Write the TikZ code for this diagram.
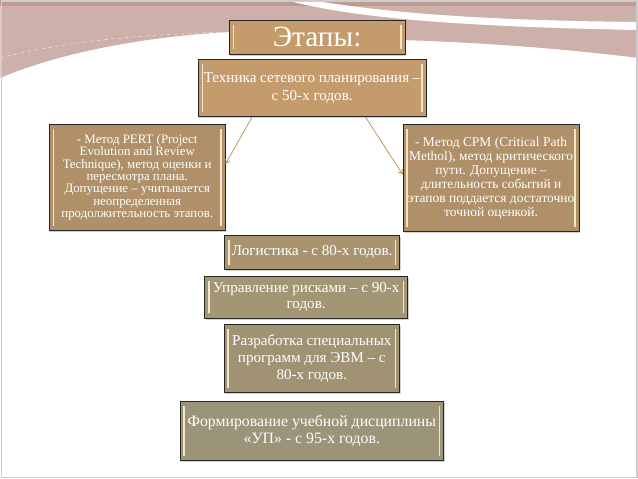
\documentclass[tikz,border=0pt]{standalone}
\usepackage{fontspec}
\setmainfont{Liberation Serif}
\usetikzlibrary{arrows.meta, positioning, shadows}

\definecolor{tanA}{HTML}{C39B6C}
\definecolor{tanB}{HTML}{AF9068}
\definecolor{olvA}{HTML}{A8956F}
\definecolor{olvB}{HTML}{A39674}
\definecolor{olvC}{HTML}{9F9373}
\definecolor{olvD}{HTML}{9B9479}
\definecolor{barc}{HTML}{F6E6C6}
\definecolor{arrowc}{HTML}{B48E58}
\definecolor{wavec}{HTML}{CDB0AA}
\definecolor{wavedark}{HTML}{B89088}

\begin{document}
\begin{tikzpicture}[
    node distance=0.2cm and 1cm,
    stage/.style={rectangle, draw=black!85, line width=0.6pt, fill=tanA, text=white, inner sep=0pt, align=center,
        font=\fontsize{11}{10.5}\selectfont,
        drop shadow={shadow xshift=1pt, shadow yshift=-1.5pt, opacity=0.35},
        path picture={
            \draw[barc, line width=1.3pt]
              ([xshift=3.5pt, yshift=4pt]path picture bounding box.south west) --
              ([xshift=3.5pt, yshift=-4pt]path picture bounding box.north west)
              ([xshift=-3.5pt, yshift=4pt]path picture bounding box.south east) --
              ([xshift=-3.5pt, yshift=-4pt]path picture bounding box.north east);
        }},
    arrow/.style={-{To[length=4pt, width=5pt]}, draw=arrowc, line width=0.6pt}
]

% Slide background
\fill[white] (0,0) rectangle (19.14,-14.37);
\begin{scope}[x=0.03cm, y=-0.03cm]
  \fill[wavec] (0,0) -- (638,0) -- (638,58)
    .. controls (560,48) and (470,42) .. (400,40) -- (230,32)
    .. controls (150,36) and (60,52) .. (0,78) -- cycle;
  \fill[wavedark!70!wavec] (0,0) -- (638,0) -- (638,6) -- (0,6) -- cycle;
  \fill[white] (285,0) .. controls (340,14) and (420,26) .. (638,30)
    -- (638,22) .. controls (440,20) and (360,8) .. (310,0) -- cycle;
  \draw[white!60!wavec, dashed, line width=0.5pt] (0,58) .. controls (70,40) and (150,34) .. (230,32);
  \draw[black!20, line width=1.2pt] (1,1) rectangle (637,478);
\end{scope}
\useasboundingbox (0,0) rectangle (19.14,-14.37);

% Top
\node[stage, minimum width=5.28cm, minimum height=1.02cm, font=\fontsize{25}{25}\selectfont] (title) at (9.51,-1.11) {Этапы:};
\node[stage, minimum width=6.84cm, minimum height=1.71cm, below=0.15cm of title, xshift=-0.15cm,
  font=\fontsize{12.9}{15}\selectfont] (network) {Техника сетевого планирования –\\с 50-х годов.};

% Methods
\node[stage, fill=tanB, minimum width=5.28cm, minimum height=3.18cm, below=0.21cm of network, xshift=-5.25cm] (pert)
  {- Метод PERT (Project\\Evolution and Review\\Technique), метод оценки и\\пересмотра плана.\\Допущение – учитывается\\неопределенная\\продолжительность этапов.};
\node[stage, fill=tanB, minimum width=5.28cm, minimum height=3.21cm, below=0.21cm of network, xshift=5.37cm,
  font=\fontsize{11.5}{12}\selectfont] (cpm)
  {- Метод CPM (Critical Path\\Methol), метод критического\\пути. Допущение –\\длительность событий и\\этапов поддается достаточно\\точной оценкой.};

% Later stages
\node[stage, fill=olvA, minimum width=5.25cm, minimum height=1.02cm, below=3.54cm of network,
  font=\fontsize{12.9}{13.6}\selectfont] (logist) {Логистика - с 80-х годов.};
\node[stage, fill=olvB, minimum width=6.09cm, minimum height=1.26cm, below=0.18cm of logist, xshift=-0.18cm,
  font=\fontsize{12.9}{13.6}\selectfont] (risk) {Управление рисками – с 90-х\\годов.};
\node[stage, fill=olvC, minimum width=5.28cm, minimum height=2.04cm, below=0.18cm of risk, xshift=0.17cm,
  font=\fontsize{12.9}{14.5}\selectfont] (evm) {Разработка специальных\\программ для ЭВМ – с\\80-х годов.};
\node[stage, fill=olvD, minimum width=7.92cm, minimum height=1.77cm, below=0.24cm of evm,
  font=\fontsize{13.5}{14.5}\selectfont] (course) {Формирование учебной дисциплины\\«УП» - с 95-х годов.};

% Connections
\draw[arrow] ([xshift=-1.8cm]network.south) -- ([yshift=0.4cm]pert.east);
\draw[arrow] ([xshift=1.6cm]network.south) -- ([yshift=0.1cm]cpm.west);

\end{tikzpicture}
\end{document}
